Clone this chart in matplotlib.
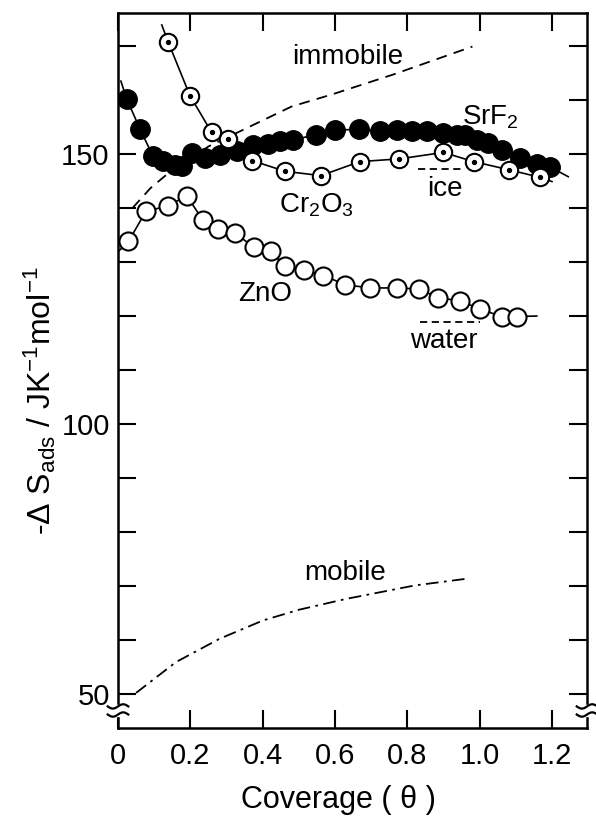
import numpy as np
import matplotlib
matplotlib.use('Agg')
import matplotlib.pyplot as plt
from matplotlib.transforms import blended_transform_factory

plt.rcParams['font.family'] = ['Liberation Sans', 'DejaVu Sans']
plt.rcParams['mathtext.default'] = 'regular'

# SrF2 (filled circles)
srf2_x = [0.024, 0.061, 0.096, 0.125, 0.158, 0.176, 0.204, 0.241, 0.282, 0.328,
          0.374, 0.416, 0.448, 0.485, 0.547, 0.600, 0.667, 0.725, 0.771, 0.812,
          0.854, 0.900, 0.937, 0.960, 0.992, 1.024, 1.061, 1.112, 1.158, 1.195]
srf2_y = [160.2, 154.6, 149.7, 148.8, 148.0, 147.7, 150.2, 149.3, 149.9, 150.5,
          151.7, 151.9, 152.5, 152.6, 153.6, 154.4, 154.6, 154.2, 154.5, 154.3,
          154.2, 153.9, 153.6, 153.6, 152.6, 152.0, 150.8, 149.3, 148.2, 147.6]
srf2_ends = [(0.008, 163.5), (1.245, 145.8)]

# Cr2O3 (dotted circles)
cr_x = [0.139, 0.199, 0.259, 0.305, 0.370, 0.462, 0.561, 0.669, 0.778, 0.900,
        0.983, 1.080, 1.166]
cr_y = [170.7, 160.8, 154.0, 152.8, 148.8, 146.8, 146.0, 148.6, 149.1, 150.3,
        148.6, 147.1, 145.7]
cr_ends = [(0.121, 173.9), (1.20, 144.9)]

# ZnO (open circles)
zno_x = [0.029, 0.077, 0.139, 0.190, 0.235, 0.277, 0.323, 0.376, 0.422, 0.462,
         0.513, 0.568, 0.628, 0.697, 0.771, 0.831, 0.886, 0.946, 1.001, 1.061, 1.102]
zno_y = [133.8, 139.4, 140.4, 142.3, 137.7, 136.1, 135.3, 132.8, 132.0, 129.2,
         128.6, 127.5, 125.8, 125.2, 125.2, 125.0, 123.4, 122.8, 121.3, 119.9, 119.9]
zno_ends = [(0.0, 131.9), (1.158, 120.0)]

# model curves
immobile_x = [0.04, 0.09, 0.14, 0.25, 0.48, 0.59, 0.76, 0.98]
immobile_y = [140.0, 143.7, 146.5, 151.4, 158.8, 161.0, 164.7, 169.9]
mobile_x = [0.05, 0.16, 0.28, 0.40, 0.50, 0.63, 0.82, 0.97]
mobile_y = [50.2, 55.9, 60.2, 63.6, 65.6, 67.6, 70.1, 71.4]

# bulk reference levels
ice_x = [0.83, 0.96]
ice_y = [147.2, 147.2]
water_x = [0.835, 1.0]
water_y = [118.9, 118.9]

x_ticks = [0, 0.2, 0.4, 0.6, 0.8, 1.0, 1.2]
x_ticklabels = ['0', '0.2', '0.4', '0.6', '0.8', '1.0', '1.2']
y_ticks = list(range(50, 171, 10))
y_ticklabels = ['50' if v == 50 else '100' if v == 100 else '150' if v == 150 else ''
                for v in y_ticks]


def with_ends(xs, ys, ends):
    lx = [ends[0][0]] + list(xs) + [ends[1][0]]
    ly = [ends[0][1]] + list(ys) + [ends[1][1]]
    return lx, ly


fig = plt.figure(figsize=(5.96, 8.18), dpi=100)
ax = fig.add_axes([0.198, 0.110, 0.787, 0.874])

# lines first, markers on top
lx, ly = with_ends(srf2_x, srf2_y, srf2_ends)
ax.plot(lx, ly, color='k', lw=1.2)
lx, ly = with_ends(cr_x, cr_y, cr_ends)
ax.plot(lx, ly, color='k', lw=1.2)
lx, ly = with_ends(zno_x, zno_y, zno_ends)
ax.plot(lx, ly, color='k', lw=1.2)

ax.plot(immobile_x, immobile_y, color='k', lw=1.3, ls=(0, (6, 4)))
ax.plot(mobile_x, mobile_y, color='k', lw=1.3, ls=(0, (7, 3, 1.5, 3)))
ax.plot(ice_x, ice_y, color='k', lw=1.3, ls=(0, (4, 2.5)))
ax.plot(water_x, water_y, color='k', lw=1.3, ls=(0, (4, 2.5)))

ax.plot(srf2_x, srf2_y, 'o', ms=14, mfc='k', mec='k', ls='none')
ax.plot(zno_x, zno_y, 'o', ms=13, mfc='white', mec='k', mew=1.5, ls='none')
ax.plot(cr_x, cr_y, 'o', ms=12.5, mfc='white', mec='k', mew=1.5, ls='none')
ax.plot(cr_x, cr_y, 'o', ms=2.8, color='k', ls='none')

# labels
lab = dict(fontsize=20, ha='center', va='center')
ax.text(0.636, 168.0, 'immobile', **lab)
ax.text(1.03, 156.9, 'SrF$_2$', **lab)
ax.text(0.548, 140.6, 'Cr$_2$O$_3$', **lab)
ax.text(0.905, 143.6, 'ice', **lab)
ax.text(0.407, 124.0, 'ZnO', **lab)
ax.text(0.902, 115.3, 'water', **lab)
ax.text(0.628, 72.4, 'mobile', **lab)

ax.set_xlim(0, 1.297)
ax.set_ylim(43.7, 176.1)
ax.set_xticks(x_ticks)
ax.set_xticklabels(x_ticklabels)
ax.set_yticks(y_ticks)
ax.set_yticklabels(y_ticklabels)
ax.tick_params(direction='in', length=13, width=1.5, labelsize=21,
               top=True, right=True)
ax.tick_params(axis='x', pad=10)
ax.tick_params(axis='y', pad=6)
for sp in ax.spines.values():
    sp.set_linewidth(1.8)

# axis break squiggles on both vertical spines
tr = blended_transform_factory(ax.transAxes, ax.transData)
t = np.linspace(-1, 1, 40)
for x0 in (0.0, 1.0):
    ax.fill_between(x0 + 0.004 * t, 46.0, 47.9, color='white', transform=tr,
                    clip_on=False, zorder=5)
    for y0 in (47.7, 46.2):
        ax.plot(x0 + 0.022 * t, y0 + 0.4 * np.sin(np.pi * t), color='k', lw=1.6,
                transform=tr, clip_on=False, zorder=6)

fig.text(40 / 596, 0.51, '-Δ S$_{ads}$ / JK$^{-1}$mol$^{-1}$', rotation=90,
         fontsize=23, ha='center', va='center')
fig.text(338 / 596, 0.022, 'Coverage ( θ )', fontsize=22, ha='center', va='center')

fig.savefig('out.png', dpi=100)
